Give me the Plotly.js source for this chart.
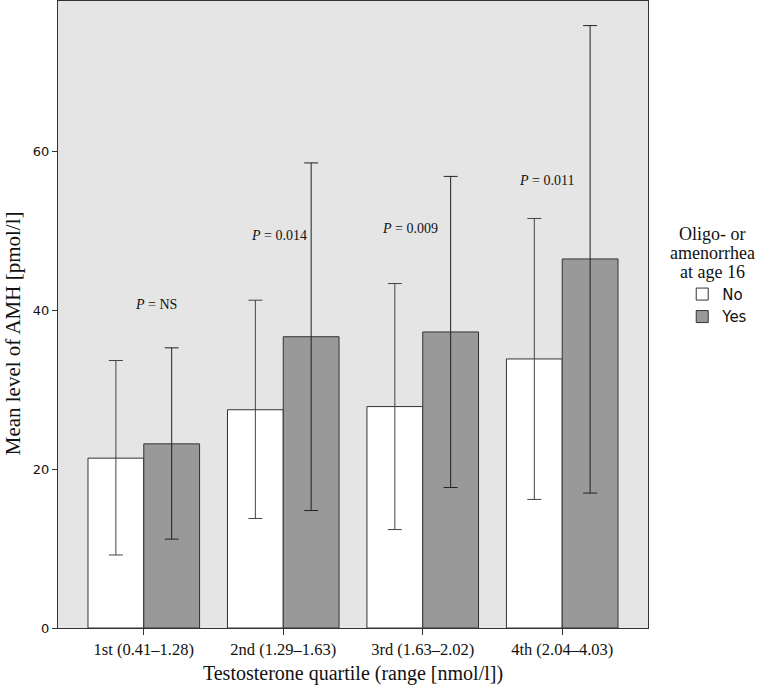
<!DOCTYPE html>
<html>
<head>
<meta charset="utf-8">
<script src="https://cdn.plot.ly/plotly-3.0.1.min.js"></script>
<style>
  html, body { margin: 0; padding: 0; background: #fff; }
  #chart { width: 779px; height: 688px; }
</style>
</head>
<body>
<div id="chart"></div>
<script>
// quartile labels
var quartiles = ['1st (0.41\u20131.28)', '2nd (1.29\u20131.63)', '3rd (1.63\u20132.02)', '4th (2.04\u20134.03)'];

// mean AMH and error bar limits
var noMean = [21.4, 27.5, 27.9, 33.9];
var noHigh = [33.7, 41.3, 43.4, 51.6];
var noLow = [9.2, 13.8, 12.4, 16.2];

var yesMean = [23.2, 36.7, 37.3, 46.5];
var yesHigh = [35.3, 58.6, 56.9, 75.9];
var yesLow = [11.2, 14.8, 17.7, 17.0];

// P value labels
var pText = ['NS', '0.014', '0.009', '0.011'];
var pX = [0.09, 0.97, 1.91, 2.89];
var pY = [40.8, 49.4, 50.3, 56.4];

// legend heading lines
var legendTitle = ['Oligo- or', 'amenorrhea', 'at age 16'];

function diff(a, b) {
	return a.map(function (v, i) { return +(v - b[i]).toFixed(2); });
}

var serif = 'Liberation Serif, Times New Roman, serif';
var sans = 'DejaVu Sans, Verdana, sans-serif';

var traces = [
	{
		type: 'bar',
		name: 'No',
		x: quartiles,
		y: noMean,
		marker: { color: '#ffffff', line: { color: '#333333', width: 1 } },
		error_y: {
			type: 'data', symmetric: false,
			array: diff(noHigh, noMean),
			arrayminus: diff(noMean, noLow),
			color: '#444444', thickness: 1, width: 7
		},
		hoverinfo: 'none'
	},
	{
		type: 'bar',
		name: 'Yes',
		x: quartiles,
		y: yesMean,
		marker: { color: '#999999', line: { color: '#333333', width: 1 } },
		error_y: {
			type: 'data', symmetric: false,
			array: diff(yesHigh, yesMean),
			arrayminus: diff(yesMean, yesLow),
			color: '#222222', thickness: 1, width: 7
		},
		hoverinfo: 'none'
	}
];

var annotations = pText.map(function (t, i) {
	return {
		x: pX[i], y: pY[i], xref: 'x', yref: 'y',
		text: '<i>P</i> = ' + t,
		showarrow: false,
		font: { family: serif, size: 14, color: '#111' }
	};
});

// legend heading, one line at a time for tight spacing
legendTitle.forEach(function (t, i) {
	annotations.push({
		x: 1.109, xref: 'paper', xanchor: 'center',
		y: 0.6284 - i * 0.0303, yref: 'paper', yanchor: 'middle',
		text: t, showarrow: false,
		font: { family: serif, size: 18, color: '#111' }
	});
});

// y axis title placed by hand (it sits lower than the plot centre)
annotations.push({
	x: -0.0763, xref: 'paper', xanchor: 'center',
	y: 0.47, yref: 'paper', yanchor: 'middle',
	text: 'Mean level of AMH [pmol/l]', textangle: -90, showarrow: false,
	font: { family: serif, size: 21, color: '#111' }
});

var layout = {
	width: 779,
	height: 688,
	margin: { l: 58, r: 131, t: 1, b: 60 },
	paper_bgcolor: '#ffffff',
	plot_bgcolor: '#e5e5e5',
	barmode: 'group',
	bargap: 0.2,
	bargroupgap: 0,
	showlegend: true,
	xaxis: {
		type: 'category',
		range: [-0.615, 3.615],
		showline: true, mirror: true, linecolor: '#333', linewidth: 1,
		ticks: 'outside', ticklen: 6, tickcolor: '#333',
		showgrid: false, zeroline: false,
		tickfont: { family: serif, size: 16.5, color: '#111' },
		title: { text: 'Testosterone quartile (range [nmol/l])', font: { family: serif, size: 20, color: '#111' }, standoff: 8 }
	},
	yaxis: {
		range: [0, 79],
		tickvals: [0, 20, 40, 60],
		showline: true, mirror: true, linecolor: '#333', linewidth: 1,
		ticks: 'outside', ticklen: 5, tickcolor: '#333',
		showgrid: false, zeroline: false,
		tickfont: { family: sans, size: 13, color: '#111' }
	},
	legend: {
		x: 1.058, xanchor: 'left',
		y: 0.5585, yanchor: 'top',
		bgcolor: 'rgba(0,0,0,0)',
		font: { family: sans, size: 15, color: '#111' },
		itemwidth: 30,
		tracegroupgap: 0
	},
	annotations: annotations
};

Plotly.newPlot('chart', traces, layout, { displayModeBar: false, staticPlot: true });
</script>
</body>
</html>
